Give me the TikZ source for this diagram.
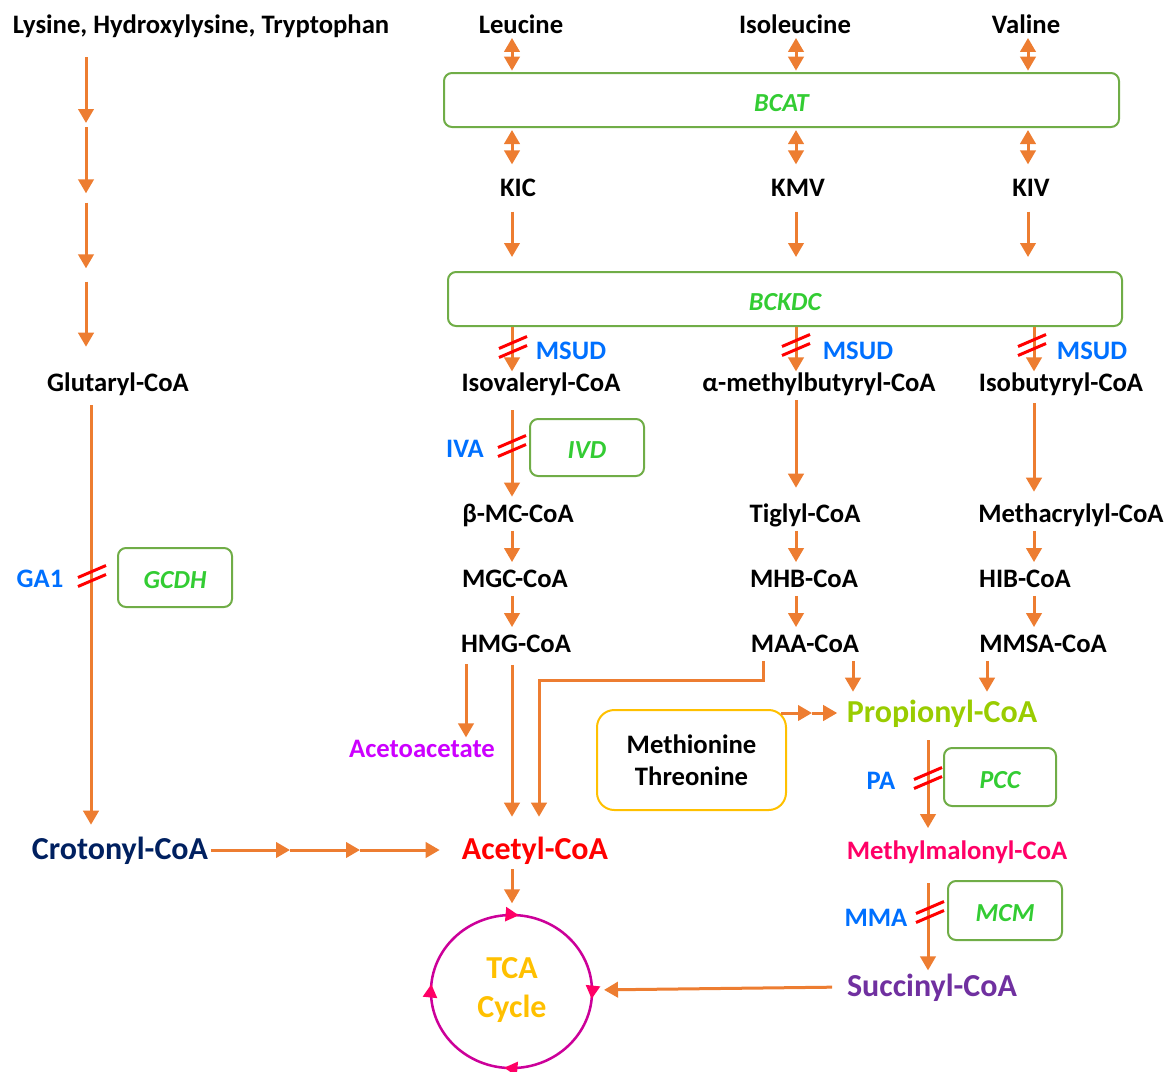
\documentclass[tikz,border=0pt]{standalone}
\usepackage{fontspec}
\setmainfont{Carlito}
\usepackage{tikz}
\usetikzlibrary{
	arrows.meta,
	decorations.markings,
	positioning
}
\tikzstyle{every picture}+=[>={Triangle[width=11.5pt,length=10.5pt]}]
\definecolor{orange}{RGB}{237,125,49}
\definecolor{green}{RGB}{51,204,51}
\definecolor{lgreen}{RGB}{112,173,71}
\definecolor{blue}{RGB}{0,112,255}
\definecolor{red}{RGB}{255,0,0}
\definecolor{violet}{RGB}{204,0,255}
\definecolor{lime}{RGB}{153,204,0}
\definecolor{pink}{RGB}{255,0,102}
\definecolor{purple}{RGB}{112,48,160}
\definecolor{navy}{RGB}{0,32,96}
\definecolor{gold}{RGB}{255,192,0}
\definecolor{magenta}{RGB}{204,0,153}

\begin{document}
\begin{tikzpicture}[x=0.75pt, y=-0.75pt,
	met/.style={font=\fontsize{20}{24}\selectfont\bfseries, inner sep=0pt, text height=15.5pt, text depth=3.5pt},
	big/.style={font=\fontsize{24}{28}\selectfont\bfseries, inner sep=0pt, text height=18.5pt, text depth=4pt},
	dis/.style={met, text=blue},
	enz/.style={draw=lgreen, line width=1.5pt, rounded corners=6pt, inner sep=0pt, text height=21pt, text depth=4pt, text=green, font=\fontsize{19.5}{22}\selectfont\bfseries\itshape},
	flow/.style={->, draw=orange, line width=2.25pt, shorten <=3pt, shorten >=3pt},
	both/.style={<->, draw=orange, line width=2.25pt, shorten <=0pt, shorten >=1pt},
	block/.style={draw=red, line width=2.25pt},
	tcacycle/.style={draw=magenta, line width=1.9pt, postaction={decorate}, decoration={markings,
		mark=between positions 0.015 and 1 step 0.25 with {\arrow[color=pink]{Triangle[width=10.5pt,length=10pt]}}}}
]
	\useasboundingbox (0,0) rectangle (1165,1072);

	% Columns
		\coordinate (colL) at (86,0);
		\coordinate (colG) at (91,0);
		\coordinate (colH) at (466,0);
		\coordinate (colA) at (512,0);
		\coordinate (colJ) at (539,0);
		\coordinate (colK) at (763,0);
		\coordinate (colB) at (796,0);
		\coordinate (colM) at (853,0);
		\coordinate (colP) at (928,0);
		\coordinate (colN) at (987,0);
		\coordinate (colC) at (1028,0);
		\coordinate (colD) at (1034,0);

	% Metabolites
		% Amino acids
			\node[met] (lys) at (201,25) {Lysine, Hydroxylysine, Tryptophan};
			\node[met] (leu) at (521,25) {Leucine};
			\node[met] (ile) at (795,25) {Isoleucine};
			\node[met] (val) at (1026,25) {Valine};
		% Keto acids
			\node[met] (kic) at (518,188) {KIC};
			\node[met] (kmv) at (798,188) {KMV};
			\node[met] (kiv) at (1031,188) {KIV};
		% Acyl-CoA
			\node[met] (glut) at (118,383) {Glutaryl-CoA};
			\node[met] (ivc) at (541,383) {Isovaleryl-CoA};
			\node[met] (mbc) at (819,383) {α-methylbutyryl-CoA};
			\node[met] (ibc) at (1061,383) {Isobutyryl-CoA};
			\node[met] (bmc) at (518,514) {β-MC-CoA};
			\node[met] (tig) at (805,514) {Tiglyl-CoA};
			\node[met] (mac) at (1071,514) {Methacrylyl-CoA};
			\node[met] (mgc) at (515,579) {MGC-CoA};
			\node[met] (mhb) at (804,579) {MHB-CoA};
			\node[met] (hib) at (1025,579) {HIB-CoA};
			\node[met] (hmg) at (516,644) {HMG-CoA};
			\node[met] (maa) at (805,644) {MAA-CoA};
			\node[met] (mmsa) at (1043,644) {MMSA-CoA};
		% End products
			\node[met, text=violet] (acac) at (422,749) {Acetoacetate};
			\node[big, text=navy] (crot) at (120,850) {Crotonyl-CoA};
			\node[big, text=red] (acet) at (535,850) {Acetyl-CoA};
			\node[big, text=lime] (prop) at (942,713) {Propionyl-CoA};
			\node[met, text=pink] (mmal) at (957,851) {Methylmalonyl-CoA};
			\node[big, text=purple] (succ) at (932,987) {Succinyl-CoA};
			\node[draw=gold, line width=1.5pt, rounded corners=13pt, minimum width=141.75pt, minimum height=75pt, align=center, font=\fontsize{20}{24}\selectfont\bfseries] (metthr) at (691.5,760) {Methionine\\Threonine};

	% Enzymes
		\node[enz, minimum width=506.25pt, minimum height=40.5pt] (bcat) at (781.5,100) {BCAT};
		\node[enz, minimum width=505.5pt, minimum height=40.5pt] (bckdc) at (785,299) {BCKDC};
		\node[enz, minimum width=85.5pt, minimum height=42.75pt] (ivd) at (587,447.5) {IVD};
		\node[enz, minimum width=85.5pt, minimum height=44.25pt] (gcdh) at (175,577.5) {GCDH};
		\node[enz, minimum width=84pt, minimum height=43.5pt] (pcc) at (1000,777) {PCC};
		\node[enz, minimum width=85.5pt, minimum height=44.25pt] (mcm) at (1005,910.5) {MCM};

	% Disorders
		\node[dis] (msudA) at (571,351) {MSUD};
		\node[dis] (msudB) at (858,351) {MSUD};
		\node[dis] (msudC) at (1092,351) {MSUD};
		\node[dis] (iva) at (465,449) {IVA};
		\node[dis] (ga1) at (40,579) {GA1};
		\node[dis] (pa) at (881,781) {PA};
		\node[dis] (mma) at (876,918) {MMA};

	% Transamination
		\draw[both] (leu.south -| colA) -- (bcat.north -| colA);
		\draw[both] (ile.south -| colB) -- (bcat.north -| colB);
		\draw[both] (val.south -| colC) -- (bcat.north -| colC);
		\draw[both, shorten <=1.5pt, shorten >=8pt] (bcat.south -| colA) -- (kic.north -| colA);
		\draw[both, shorten <=1.5pt, shorten >=8pt] (bcat.south -| colB) -- (kmv.north -| colB);
		\draw[both, shorten <=1.5pt, shorten >=8pt] (bcat.south -| colC) -- (kiv.north -| colC);

	% Decarboxylation
		\draw[flow, shorten <=8pt, shorten >=10.5pt] (kic.south -| colA) -- (bckdc.north -| colA);
		\draw[flow, shorten <=8pt, shorten >=10.5pt] (kmv.south -| colB) -- (bckdc.north -| colB);
		\draw[flow, shorten <=8pt, shorten >=10.5pt] (kiv.south -| colC) -- (bckdc.north -| colC);
		\draw[flow, shorten <=0pt, shorten >=-1pt] (bckdc.south -| colA) -- (ivc.north -| colA);
		\draw[flow, shorten <=0pt, shorten >=-1pt] (bckdc.south -| colB) -- (mbc.north -| colB);
		\draw[flow, shorten <=0pt, shorten >=-1pt] (bckdc.south -| colD) -- (ibc.north -| colD);

	% Leucine
		\draw[flow, shorten <=10.8pt, shorten >=3.3pt] (ivc.south -| colA) -- (bmc.north -| colA);
		\draw[flow] (bmc.south -| colA) -- (mgc.north -| colA);
		\draw[flow] (mgc.south -| colA) -- (hmg.north -| colA);
		\draw[flow, shorten <=5.5pt, shorten >=-1pt] (hmg.south -| colH) -- (acac.north -| colH);
		\draw[flow, shorten <=6pt, shorten >=13.5pt] (hmg.south -| colA) -- (acet.north -| colA);

	% Isoleucine
		\draw[flow, shorten <=3.3pt, shorten >=10pt] (mbc.south -| colB) -- (tig.north -| colB);
		\draw[flow] (tig.south -| colB) -- (mhb.north -| colB);
		\draw[flow] (mhb.south -| colB) -- (maa.north -| colB);
		\draw[flow, shorten >=13.5pt] (maa.south -| colK) -- ++(0,24) -| (acet.north -| colJ);
		\draw[flow, shorten >=4.5pt] (maa.south -| colM) -- (prop.north -| colM);

	% Valine
		\draw[flow, shorten <=5.5pt, shorten >=7pt] (ibc.south -| colD) -- (mac.north -| colD);
		\draw[flow] (mac.south -| colD) -- (hib.north -| colD);
		\draw[flow] (hib.south -| colD) -- (mmsa.north -| colD);
		\draw[flow, shorten >=4.5pt] (mmsa.south -| colN) -- (prop.north -| colN);

	% Propionyl-CoA to succinyl-CoA
		\coordinate (mt1) at (812,713);
		\draw[flow, shorten <=-4.5pt, shorten >=0pt] (metthr.east |- prop) -- (mt1);
		\draw[flow, shorten <=0pt, shorten >=7pt] (mt1) -- (prop.west);
		\draw[flow, shorten <=9pt, shorten >=7.5pt] (prop.south -| colP) -- (mmal.north -| colP);
		\draw[flow, shorten <=14.5pt, shorten >=1pt] (mmal.south -| colP) -- (succ.north -| colP);

	% Lysine
		\coordinate (lk1) at (86,125);
		\coordinate (lk2) at (86,198);
		\coordinate (lk3) at (86,275);
		\draw[flow, shorten <=14.5pt, shorten >=1.5pt] (lys.south -| colL) -- (lk1);
		\draw[flow, shorten <=1.5pt, shorten >=3.5pt] (lk1) -- (lk2);
		\draw[flow, shorten <=3.5pt, shorten >=5pt] (lk2) -- (lk3);
		\draw[flow, shorten <=5pt, shorten >=17.5pt] (lk3) -- (glut.north -| colL);
		\draw[flow, shorten <=7pt, shorten >=7.5pt] (glut.south -| colG) -- (crot.north -| colG);
		\coordinate (cr1) at (290,850);
		\coordinate (cr2) at (360,850);
		\draw[flow, shorten <=2pt, shorten >=0pt] (crot.east) -- (cr1);
		\draw[flow, shorten <=0pt, shorten >=0pt] (cr1) -- (cr2);
		\draw[flow, shorten <=0pt, shorten >=16.5pt] (cr2) -- (acet.west);

	% TCA cycle
		\node[align=center, text=gold, font=\fontsize{24}{29}\selectfont\bfseries] (tca) at (512,990) {TCA\\Cycle};
		\draw[tcacycle] (511.5,915) arc[start angle=90, end angle=-270, x radius=60.4pt, y radius=57.4pt];
		\coordinate (tcaN) at (512,914);
		\coordinate (tcaE) at (592,990);
		\draw[flow, shorten <=3pt, shorten >=8pt] (acet.south -| colA) -- (tcaN);
		\draw[flow, shorten <=11pt, shorten >=9pt] (succ.west) -- (tcaE);

	% Deficiencies
		% Two red strokes across a blocked step
		\newcommand\blockmark[1] {
			\draw[block] (#1) ++(-14,1.5) -- ++(28,-12);
			\draw[block] (#1) ++(-14,10.5) -- ++(28,-12);
		}
		\blockmark{513,347}
		\blockmark{796,345}
		\blockmark{1032,345}
		\blockmark{512,446}
		\blockmark{92,576}
		\blockmark{928,778}
		\blockmark{930,912}
\end{tikzpicture}
\end{document}
